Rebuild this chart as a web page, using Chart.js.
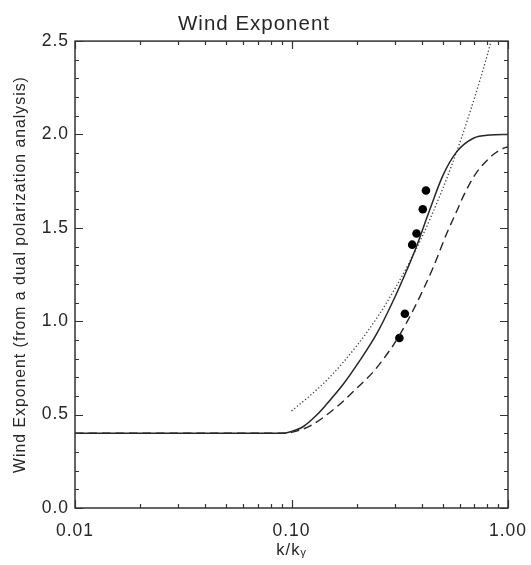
<!DOCTYPE html>
<html>
<head>
<meta charset="utf-8">
<script src="https://cdn.jsdelivr.net/npm/chart.js@4/dist/chart.umd.min.js"></script>
<style>
  html, body { margin: 0; padding: 0; background: #fff; }
  #c { display: block; }
</style>
</head>
<body>
<canvas id="c" width="531" height="565"></canvas>
<script>
// ---- data ----
const kSolid = [0.01, 0.05, 0.09, 0.10, 0.113, 0.13, 0.145, 0.174, 0.207, 0.248, 0.295, 0.34, 0.372, 0.436, 0.50, 0.579, 0.692, 0.826, 1.0];
const wSolid = [0.40, 0.40, 0.40, 0.41, 0.435, 0.495, 0.555, 0.665, 0.79, 0.935, 1.11, 1.27, 1.38, 1.60, 1.78, 1.907, 1.98, 1.997, 2.0];

const kDashed = [0.01, 0.05, 0.09, 0.10, 0.122, 0.162, 0.20, 0.239, 0.285, 0.306, 0.365, 0.452, 0.521, 0.58, 0.622, 0.70, 0.742, 0.85, 0.918, 1.0];
const wDashed = [0.40, 0.40, 0.40, 0.405, 0.44, 0.542, 0.641, 0.73, 0.846, 0.90, 1.06, 1.29, 1.47, 1.59, 1.67, 1.78, 1.82, 1.89, 1.917, 1.935];

const kDotted = [0.10, 0.12, 0.15, 0.20, 0.25, 0.30, 0.35, 0.40, 0.50, 0.60, 0.70, 0.80, 0.835];
const wDotted = [0.52, 0.595, 0.70, 0.868, 1.024, 1.173, 1.314, 1.45, 1.711, 1.958, 2.195, 2.42, 2.50];

const kObs = [0.418, 0.404, 0.378, 0.361, 0.334, 0.315];
const wObs = [1.70, 1.60, 1.47, 1.41, 1.04, 0.91];

const xTickValues = [0.01, 0.1, 1];
const xTickLabels = ['0.01', '0.10', '1.00'];
const xMinorValues = [0.02, 0.03, 0.04, 0.05, 0.06, 0.07, 0.08, 0.09, 0.2, 0.3, 0.4, 0.5, 0.6, 0.7, 0.8, 0.9];
const yTickValues = [0.0, 0.5, 1.0, 1.5, 2.0, 2.5];
const yTickLabels = ['0.0', '0.5', '1.0', '1.5', '2.0', '2.5'];
const yMinorValues = [0.1, 0.2, 0.3, 0.4, 0.6, 0.7, 0.8, 0.9, 1.1, 1.2, 1.3, 1.4, 1.6, 1.7, 1.8, 1.9, 2.1, 2.2, 2.3, 2.4];

const chartTitle = 'Wind Exponent';
const xTitle = 'k/k\u1D67';
const yTitle = 'Wind Exponent (from a dual polarization analysis)';

// ---- chart ----
const FONT = "'Liberation Sans', Arial, Helvetica, sans-serif";
const INK = '#262626';
const pts = (xs, ys) => xs.map((v, i) => ({ x: v, y: ys[i] }));

const spacing = {
  id: 'spacing',
  beforeLayout(chart) { chart.ctx.letterSpacing = '1px'; },
  beforeDraw(chart) { chart.ctx.letterSpacing = '1px'; }
};

const frameTicks = {
  id: 'frameTicks',
  afterDatasetsDraw(chart) {
    const { ctx, chartArea: a, scales: { x, y } } = chart;
    ctx.save();
    ctx.strokeStyle = '#333';
    ctx.lineWidth = 1.2;
    ctx.beginPath();
    const xt = (vals, len) => vals.forEach(v => {
      const p = Math.round(x.getPixelForValue(v)) + 0.5;
      ctx.moveTo(p, a.bottom); ctx.lineTo(p, a.bottom - len);
      ctx.moveTo(p, a.top); ctx.lineTo(p, a.top + len);
    });
    const yt = (vals, len) => vals.forEach(v => {
      const p = Math.round(y.getPixelForValue(v)) + 0.5;
      ctx.moveTo(a.left, p); ctx.lineTo(a.left + len, p);
      ctx.moveTo(a.right, p); ctx.lineTo(a.right - len, p);
    });
    xt(xTickValues, 8); xt(xMinorValues, 4);
    yt(yTickValues, 8); yt(yMinorValues, 4);
    ctx.stroke();
    ctx.lineWidth = 1.5;
    ctx.strokeRect(a.left, a.top, a.right - a.left, a.bottom - a.top);
    ctx.restore();
  }
};

new Chart(document.getElementById('c'), {
  type: 'scatter',
  data: {
    datasets: [
      { label: 'solid', data: pts(kSolid, wSolid), showLine: true, borderColor: INK, borderWidth: 1.5,
        pointRadius: 0, cubicInterpolationMode: 'monotone', fill: false },
      { label: 'dashed', data: pts(kDashed, wDashed), showLine: true, borderColor: INK, borderWidth: 1.4,
        borderDash: [8.5, 5], pointRadius: 0, cubicInterpolationMode: 'monotone', fill: false },
      { label: 'dotted', data: pts(kDotted, wDotted), showLine: true, borderColor: '#444', borderWidth: 1.3,
        borderDash: [1.3, 2.2], pointRadius: 0, cubicInterpolationMode: 'monotone', fill: false },
      { label: 'observed', data: pts(kObs, wObs), showLine: false, backgroundColor: '#000', borderColor: '#000',
        pointRadius: 4.3, borderWidth: 0 }
    ]
  },
  options: {
    responsive: false,
    animation: false,
    layout: { padding: { left: 0, right: 23, top: 0, bottom: 0 } },
    plugins: {
      legend: { display: false },
      tooltip: { enabled: false },
      title: {
        display: true, text: chartTitle, color: INK,
        font: { family: FONT, size: 20.5, weight: 'normal' },
        padding: { top: 12.5, bottom: 4 }
      }
    },
    scales: {
      x: {
        type: 'logarithmic', min: 0.01, max: 1,
        afterBuildTicks: s => { s.ticks = xTickValues.map(v => ({ value: v })); },
        afterFit: s => { s.height = 57; s.paddingLeft = 0; s.paddingRight = 0; },
        grid: { display: false, drawTicks: false },
        border: { display: false },
        ticks: {
          autoSkip: false, maxRotation: 0, minRotation: 0, padding: 13, color: INK,
          font: { family: FONT, size: 17.5 },
          callback: (v) => xTickLabels[xTickValues.findIndex(t => Math.abs(t - v) < 1e-9)]
        },
        title: { display: true, text: xTitle, color: INK, font: { family: FONT, size: 16.5 }, padding: { top: 0, bottom: 4.5 } }
      },
      y: {
        type: 'linear', min: 0, max: 2.5,
        afterBuildTicks: s => { s.ticks = yTickValues.map(v => ({ value: v })); },
        afterFit: s => { s.width = 75; s.paddingTop = 0; s.paddingBottom = 0; },
        grid: { display: false, drawTicks: false },
        border: { display: false },
        ticks: {
          padding: 6, color: INK, font: { family: FONT, size: 17.5 },
          callback: (v) => yTickLabels[yTickValues.findIndex(t => Math.abs(t - v) < 1e-9)]
        },
        title: { display: true, text: yTitle, color: INK, font: { family: FONT, size: 15.8 }, padding: { top: 11, bottom: 0 } }
      }
    }
  },
  plugins: [spacing, frameTicks]
});
</script>
</body>
</html>
